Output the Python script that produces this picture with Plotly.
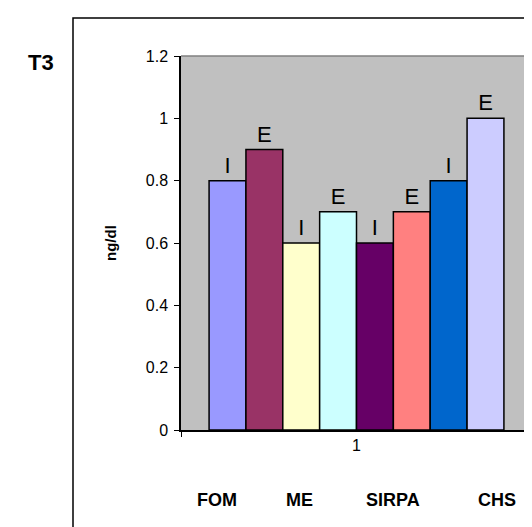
import plotly.graph_objects as go

category = ["1"]
series_names = ["FOM I", "FOM E", "ME I", "ME E", "SIRPA I", "SIRPA E", "CHS I", "CHS E"]
series_labels = ["I", "E", "I", "E", "I", "E", "I", "E"]
series_values = [0.8, 0.9, 0.6, 0.7, 0.6, 0.7, 0.8, 1.0]
series_colors = ["#9999FF", "#993366", "#FFFFCC", "#CCFFFF", "#660066", "#FF8080", "#0066CC", "#CCCCFF"]
group_labels = ["FOM", "ME", "SIRPA", "CHS"]
group_label_x = [209, 291, 385, 489]
y_ticks = [0, 0.2, 0.4, 0.6, 0.8, 1, 1.2]

W, H = 532, 527
ML, MR, MT, MB = 173, 8, 48, 105
FONT = "Liberation Sans, Arial"

fig = go.Figure()
for name, lab, val, col in zip(series_names, series_labels, series_values, series_colors):
    fig.add_trace(go.Bar(
        x=category, y=[val], name=name,
        marker=dict(color=col, line=dict(color="black", width=1.5)),
        text=[lab], textposition="outside", cliponaxis=False,
        textfont=dict(family=FONT, size=22, color="black"),
    ))

fig.update_layout(
    width=W, height=H,
    margin=dict(l=ML, r=MR, t=MT, b=MB),
    paper_bgcolor="white", plot_bgcolor="#C0C0C0",
    barmode="group", bargap=0.16, bargroupgap=0,
    showlegend=False,
    font=dict(family=FONT, size=16, color="black"),
)
fig.update_yaxes(
    range=[0, 1.2], tickvals=y_ticks, ticktext=[f"{v:g}" for v in y_ticks],
    showgrid=False, zeroline=False,
    showline=True, linecolor="black", linewidth=1.5,
    ticks="outside", ticklen=5, tickcolor="black", tickwidth=1,
    tickfont=dict(size=16), ticklabelstandoff=3,
)
fig.update_xaxes(
    showgrid=False, showline=True, linecolor="black", linewidth=1.5,
    ticks="outside", tickson="boundaries", ticklen=5, tickcolor="black",
    tickfont=dict(size=16),
)

# plot area top/right border in grey
fig.add_shape(type="line", xref="paper", yref="paper", x0=0, x1=1, y0=1, y1=1,
              line=dict(color="#808080", width=1.5))
fig.add_shape(type="line", xref="paper", yref="paper", x0=1, x1=1, y0=0, y1=1,
              line=dict(color="#808080", width=1.5))

pw, ph = W - ML - MR, H - MT - MB
def px_to_paper_x(px):
    return (px - ML) / pw
def py_to_paper_y(py):
    return (H - MB - py) / ph

# outer frame (extends beyond the window on right and bottom)
fig.add_shape(type="rect", xref="paper", yref="paper",
              x0=px_to_paper_x(65), x1=px_to_paper_x(560),
              y0=py_to_paper_y(560), y1=py_to_paper_y(10),
              line=dict(color="black", width=1.5), fillcolor="rgba(0,0,0,0)", layer="above")

# y-axis title
fig.add_annotation(text="<b>ng/dl</b>", xref="paper", yref="paper",
                   x=px_to_paper_x(102), y=0.5, textangle=-90, showarrow=False,
                   font=dict(size=15), xanchor="center", yanchor="middle")
# panel label
fig.add_annotation(text="<b>T3</b>", xref="paper", yref="paper",
                   x=px_to_paper_x(33), y=py_to_paper_y(55), showarrow=False,
                   font=dict(size=22), xanchor="center", yanchor="middle")
# group labels
for lab, gx in zip(group_labels, group_label_x):
    fig.add_annotation(text=f"<b>{lab}</b>", xref="paper", yref="paper",
                       x=px_to_paper_x(gx), y=py_to_paper_y(492), showarrow=False,
                       font=dict(size=18), xanchor="center", yanchor="middle")

fig.write_html("out.html")
